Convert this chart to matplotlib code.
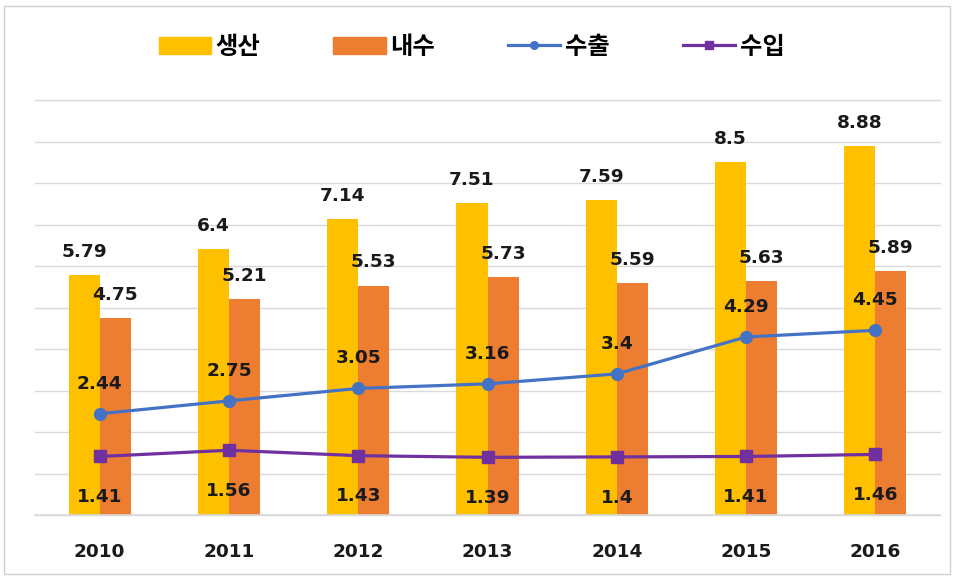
import matplotlib
matplotlib.use("Agg")
import matplotlib.pyplot as plt
import numpy as np
from matplotlib.patches import Rectangle, Patch
from matplotlib.lines import Line2D

plt.rcParams['font.family'] = ['DejaVu Sans', 'Noto Sans CJK KR']

years = ['2010', '2011', '2012', '2013', '2014', '2015', '2016']
production = [5.79, 6.4, 7.14, 7.51, 7.59, 8.5, 8.88]
domestic = [4.75, 5.21, 5.53, 5.73, 5.59, 5.63, 5.89]
exports = [2.44, 2.75, 3.05, 3.16, 3.4, 4.29, 4.45]
imports = [1.41, 1.56, 1.43, 1.39, 1.4, 1.41, 1.46]
series_names = ['생산', '내수', '수출', '수입']

c_prod = '#FFC000'
c_dom = '#ED7D31'
c_exp = '#4472C4'
c_imp = '#7030A0'
c_txt = '#1a1a1a'

fig = plt.figure(figsize=(9.55, 5.78), dpi=100)
ax = fig.add_axes([35/955, 63/578, 905/955, 415/578])

x = np.arange(len(years))
w = 0.24
ax.bar(x - w/2, production, width=w, color=c_prod, zorder=2)
ax.bar(x + w/2, domestic, width=w, color=c_dom, zorder=2)
ax.plot(x, exports, color=c_exp, lw=2.3, marker='o', ms=8.5, zorder=3)
ax.plot(x, imports, color=c_imp, lw=2.3, marker='s', ms=8.5, zorder=3)

fs = 13.3
for xi, v in zip(x, production):
    ax.annotate(f'{v:g}', (xi - w/2, v), xytext=(0, 13), textcoords='offset points',
                ha='center', va='baseline', fontsize=fs, fontweight='bold', color=c_txt, zorder=4)
for xi, v in zip(x, domestic):
    ax.annotate(f'{v:g}', (xi + w/2, v), xytext=(0, 13), textcoords='offset points',
                ha='center', va='baseline', fontsize=fs, fontweight='bold', color=c_txt, zorder=4)
for xi, v in zip(x, exports):
    ax.annotate(f'{v:g}', (xi, v), xytext=(0, 18), textcoords='offset points',
                ha='center', va='baseline', fontsize=fs, fontweight='bold', color=c_txt, zorder=4)
for xi, v in zip(x, imports):
    ax.annotate(f'{v:g}', (xi, v), xytext=(0, -33), textcoords='offset points',
                ha='center', va='baseline', fontsize=fs, fontweight='bold', color=c_txt, zorder=4)

ax.set_xlim(-0.5, len(years) - 0.5)
ax.set_ylim(0, 10)
ax.set_yticks(np.arange(0, 11, 1))
ax.yaxis.grid(True, color='#d9d9d9', lw=1, zorder=0)
for gl in ax.get_ygridlines():
    gl.set_clip_on(False)
ax.set_axisbelow(True)
ax.tick_params(axis='y', left=False, labelleft=False)
ax.set_xticks(x)
ax.set_xticklabels(years, fontsize=fs, fontweight='bold', color=c_txt)
ax.tick_params(axis='x', length=0, pad=20)
for s in ax.spines.values():
    s.set_visible(False)
ax.axhline(0, color='#d9d9d9', lw=1.2, zorder=2.5, clip_on=False)

handles = [Patch(color=c_prod), Patch(color=c_dom),
           Line2D([], [], color=c_exp, lw=2.3, marker='o', ms=5.5),
           Line2D([], [], color=c_imp, lw=2.3, marker='s', ms=5.5)]
fig.legend(handles=handles, labels=series_names, loc='center',
           bbox_to_anchor=(0.494, 1 - 47/578), ncol=4, frameon=False,
           prop={'family': ['Noto Sans CJK KR'], 'weight': 'bold', 'size': 17.5},
           handlelength=2.15, handletextpad=0.2, columnspacing=3.0)

fig.patches.append(Rectangle((4/955, 4/578), 946/955, 568/578, transform=fig.transFigure,
                             fill=False, edgecolor='#d0d0d0', lw=1))

fig.savefig('out.png', dpi=100)
